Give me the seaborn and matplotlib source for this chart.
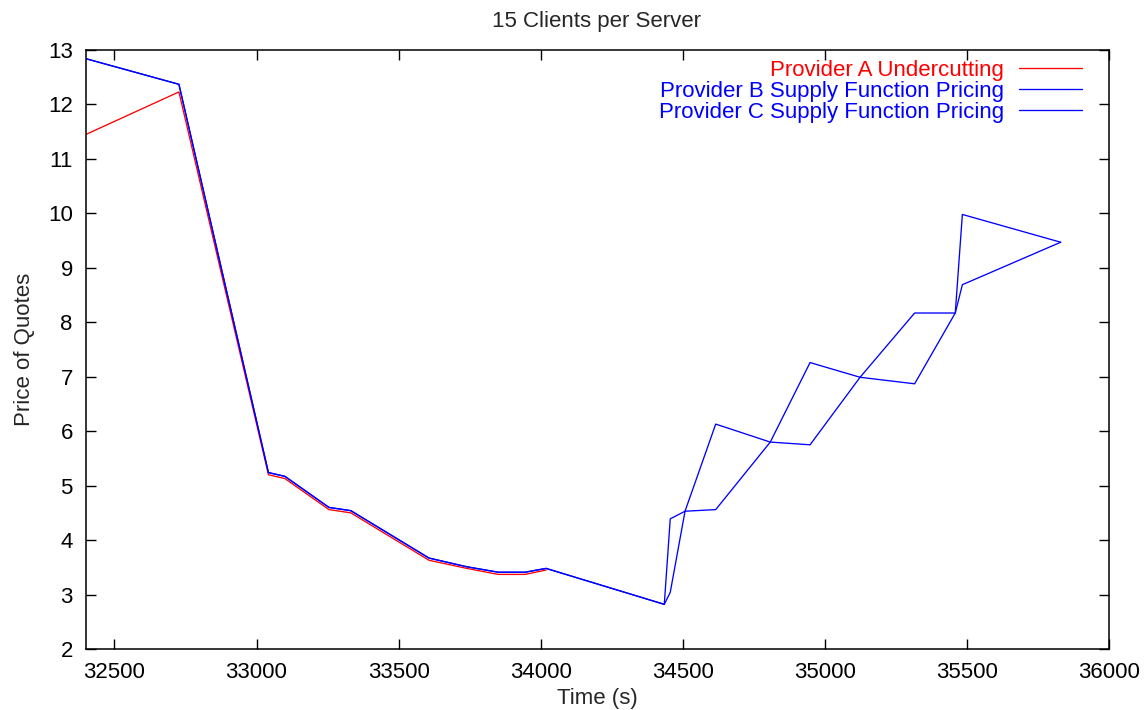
import matplotlib
matplotlib.use("Agg")
import matplotlib.pyplot as plt
import seaborn as sns
import pandas as pd

# ---- data ----
time_s = [32400, 32727, 33042, 33100, 33255, 33332, 33607, 33740, 33851, 33945,
          34019, 34435, 34456, 34508, 34616, 34808, 34948, 35124, 35316, 35459,
          35484, 35830]
provider_a = [11.45, 12.23, 5.20, 5.13, 4.56, 4.50, 3.63, 3.48, 3.37, 3.37, 3.45]
provider_b = [12.84, 12.37, 5.24, 5.17, 4.60, 4.54, 3.67, 3.51, 3.41, 3.41, 3.48,
              2.82, 4.39, 4.53, 4.56, 5.80, 5.75, 6.99, 8.17, 8.17, 8.69, 9.47]
provider_c = [12.84, 12.37, 5.24, 5.17, 4.60, 4.54, 3.67, 3.51, 3.41, 3.41, 3.48,
              2.82, 3.04, 4.53, 6.13, 5.80, 7.26, 6.99, 6.87, 8.17, 9.98, 9.47]
labels = ["Provider A Undercutting",
          "Provider B Supply Function Pricing",
          "Provider C Supply Function Pricing"]
colors = ["#ff0000", "#0000ff", "#0000ff"]
title = "15 Clients per Server"
xlabel = "Time (s)"
ylabel = "Price of Quotes"
xticks = [32500, 33000, 33500, 34000, 34500, 35000, 35500, 36000]
yticks = [2, 3, 4, 5, 6, 7, 8, 9, 10, 11, 12, 13]

sns.set_style("ticks")
plt.rcParams["font.family"] = ["Liberation Sans", "DejaVu Sans"]

FS = 16
fig = plt.figure(figsize=(11.47, 7.10), dpi=100)
ax = fig.add_axes([86 / 1147, 1 - 649 / 710, (1109 - 86) / 1147, (649 - 50) / 710])

series = [provider_a, provider_b, provider_c]
for lab, col, vals in zip(labels, colors, series):
    df = pd.DataFrame({"t": time_s[:len(vals)], "p": vals})
    sns.lineplot(data=df, x="t", y="p", ax=ax, color=col, lw=0.95,
                 label=lab, sort=False, estimator=None)

ax.set_xlim(32400, 36000)
ax.set_ylim(2, 13)
ax.set_xticks(xticks)
ax.set_yticks(yticks)
ax.tick_params(direction="in", length=7, width=1, top=True, right=True,
               labelsize=FS, colors="black")
ax.tick_params(axis="y", pad=9.5)
ax.tick_params(axis="x", pad=9)
for s in ax.spines.values():
    s.set_visible(True)
    s.set_linewidth(1.1)
    s.set_color("black")

ax.set_xlabel(xlabel, fontsize=FS, labelpad=4)
ax.set_ylabel(ylabel, fontsize=FS, labelpad=9)
fig.text(596 / 1147, 1 - 21 / 710, title, ha="center", va="center", fontsize=FS)

leg = ax.legend(loc="upper right", frameon=False, markerfirst=False,
                fontsize=FS, handlelength=2.84, handletextpad=0.68,
                labelspacing=0.0, borderaxespad=0, borderpad=0,
                bbox_to_anchor=((1082 - 86) / 1023, (649 - 60) / 599))
for txt, col in zip(leg.get_texts(), colors):
    txt.set_color(col)

fig.savefig("out.png", dpi=100)
